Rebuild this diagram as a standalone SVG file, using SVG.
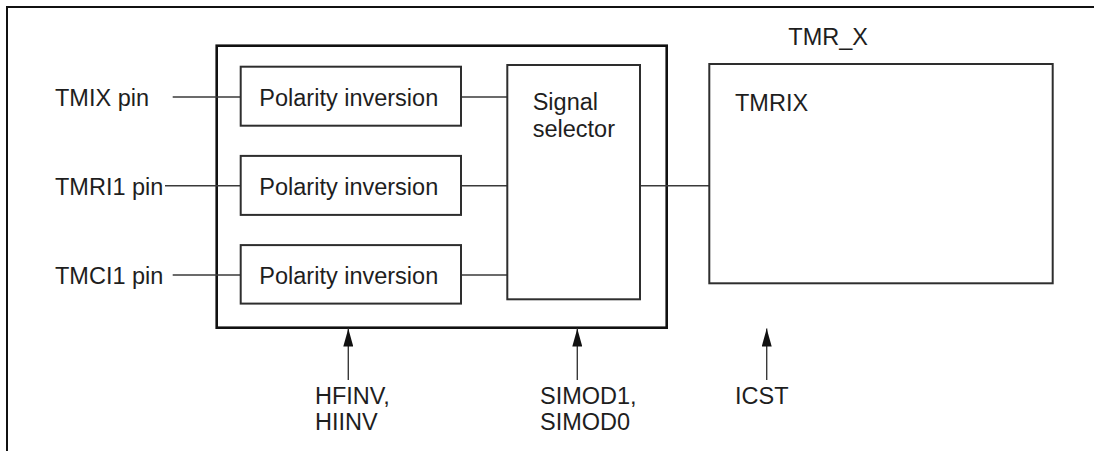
<svg xmlns="http://www.w3.org/2000/svg" width="1094" height="451" viewBox="0 0 1094 451">
<style>
  text { font-family: "Liberation Sans", Arial, sans-serif; font-size: 23.5px; fill: #1e1e1e; }
  .box { fill: #ffffff; stroke: #2e2e2e; stroke-width: 2; }
  .outer { fill: none; stroke: #111111; stroke-width: 2.6; }
  .wire { fill: none; stroke: #3a3a3a; stroke-width: 1.4; }
  .arrow { fill: none; stroke: #3a3a3a; stroke-width: 1.4; marker-end: url(#ah); }
  .frame { fill: none; stroke: #111111; stroke-width: 2; }
</style>
<defs>
  <marker id="ah" markerUnits="userSpaceOnUse" markerWidth="18" markerHeight="10" refX="18" refY="5" orient="auto">
    <path d="M0,0 L18,5 L0,10 z" fill="#111111"/>
  </marker>
</defs>
<rect x="0" y="0" width="1094" height="451" fill="#ffffff"/>
<path class="frame" d="M7,451 V7 H1094"/>

<g id="input-unit">
  <rect class="outer" x="216.7" y="45.7" width="450" height="282"/>
</g>

<g id="connectors">
  <line class="wire" x1="172.7" y1="97" x2="240.7" y2="97"/>
  <line class="wire" x1="165" y1="185.7" x2="240.7" y2="185.7"/>
  <line class="wire" x1="172.7" y1="275" x2="240.7" y2="275"/>
  <line class="wire" x1="461" y1="97" x2="507.3" y2="97"/>
  <line class="wire" x1="461" y1="185.7" x2="507.3" y2="185.7"/>
  <line class="wire" x1="461" y1="275" x2="507.3" y2="275"/>
  <line class="wire" x1="640" y1="185.7" x2="709.3" y2="185.7"/>
  <line class="arrow" x1="348.3" y1="380" x2="348.3" y2="328.6"/>
  <line class="arrow" x1="577.3" y1="380" x2="577.3" y2="328.6"/>
  <line class="arrow" x1="766.7" y1="380" x2="766.7" y2="328.6"/>
</g>

<g id="pin-labels">
  <text x="55" y="106">TMIX pin</text>
  <text x="55" y="195">TMRI1 pin</text>
  <text x="55" y="283.5">TMCI1 pin</text>
</g>

<g id="polarity-1">
  <rect class="box" x="240.7" y="66.7" width="220.3" height="59"/>
  <text x="259.3" y="106">Polarity inversion</text>
</g>
<g id="polarity-2">
  <rect class="box" x="240.7" y="155.9" width="220.3" height="59"/>
  <text x="259.3" y="195">Polarity inversion</text>
</g>
<g id="polarity-3">
  <rect class="box" x="240.7" y="245.1" width="220.3" height="58.5"/>
  <text x="259.3" y="283.5">Polarity inversion</text>
</g>

<g id="signal-selector">
  <rect class="box" x="507.3" y="65" width="132.7" height="234.3"/>
  <text x="532.7" y="110">Signal</text>
  <text x="532.7" y="136.7">selector</text>
</g>

<g id="tmr-x">
  <text x="788.3" y="45">TMR_X</text>
  <rect class="box" x="709.3" y="64" width="343.4" height="219.3"/>
  <text x="735" y="111">TMRIX</text>
</g>

<g id="ctrl-labels">
  <text x="315" y="404">HFINV,</text>
  <text x="315" y="430">HIINV</text>
  <text x="540" y="404">SIMOD1,</text>
  <text x="540" y="430">SIMOD0</text>
  <text x="735" y="404">ICST</text>
</g>
</svg>
